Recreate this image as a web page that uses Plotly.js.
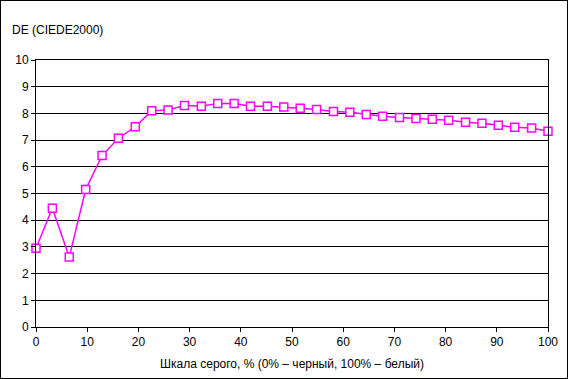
<!DOCTYPE html>
<html>
<head>
<meta charset="utf-8">
<script src="https://cdn.plot.ly/plotly-3.0.1.min.js"></script>
<style>
  html, body { margin: 0; padding: 0; background: #fff; }
  #wrap { position: relative; width: 568px; height: 379px; }
  #chart { position: absolute; left: 0; top: 0; width: 568px; height: 379px; }
  #frame { position: absolute; left: 0; top: 0; width: 568px; height: 379px; box-sizing: border-box; border: 1px solid #000; pointer-events: none; }
</style>
</head>
<body>
<div id="wrap"><div id="chart"></div><div id="frame"></div></div>
<script>
// Gray scale level, % (0% = black, 100% = white)
var grayLevels = [0, 3.2, 6.5, 9.7, 12.9, 16.1, 19.4, 22.6, 25.8, 29.0, 32.3, 35.5, 38.7, 41.9, 45.2, 48.4,
                  51.6, 54.8, 58.1, 61.3, 64.5, 67.7, 71.0, 74.2, 77.4, 80.6, 83.9, 87.1, 90.3, 93.5, 96.8, 100];
// DE (CIEDE2000)
var deValues = [2.95, 4.45, 2.62, 5.15, 6.42, 7.07, 7.50, 8.10, 8.13, 8.30, 8.27, 8.37, 8.37, 8.27, 8.27, 8.24,
                8.19, 8.15, 8.07, 8.04, 7.96, 7.89, 7.85, 7.81, 7.78, 7.74, 7.67, 7.63, 7.56, 7.48, 7.45, 7.33];
var xTicks = [0, 10, 20, 30, 40, 50, 60, 70, 80, 90, 100];
var yTicks = [0, 1, 2, 3, 4, 5, 6, 7, 8, 9, 10];
var yTitle = "DE (CIEDE2000)";
var xTitle = "Шкала серого, % (0% – черный, 100% – белый)";

var font = { family: "Liberation Sans, Arial, sans-serif", size: 12, color: "#000" };

var trace = {
  x: grayLevels,
  y: deValues,
  type: "scatter",
  mode: "lines+markers",
  line: { color: "#ff00ff", width: 1.5 },
  marker: { symbol: "square", size: 8, color: "#ffffff", line: { color: "#ff00ff", width: 1.5 } },
  cliponaxis: false,
  hoverinfo: "none"
};

var layout = {
  width: 568, height: 379,
  margin: { l: 36, r: 20, t: 60, b: 52, pad: 0 },
  paper_bgcolor: "#fff", plot_bgcolor: "#fff",
  font: font,
  showlegend: false,
  xaxis: {
    range: [0, 100], tickvals: xTicks, ticktext: xTicks.map(String),
    showgrid: false, zeroline: false,
    showline: true, linecolor: "#000", linewidth: 1, mirror: true,
    ticks: "outside", ticklen: 4, tickcolor: "#000", tickwidth: 1,
    tickfont: font,
    title: { text: xTitle, font: font, standoff: 11 }
  },
  yaxis: {
    range: [0, 10], tickvals: yTicks, ticktext: yTicks.map(String),
    showgrid: true, gridcolor: "#000", gridwidth: 1, zeroline: false,
    showline: true, linecolor: "#000", linewidth: 1, mirror: true,
    ticks: "outside", ticklen: 4, tickcolor: "#000", tickwidth: 1,
    tickfont: font
  },
  annotations: [{
    text: yTitle, xref: "paper", yref: "paper",
    x: -0.05, y: 1.112, xanchor: "left", yanchor: "middle",
    showarrow: false, font: font
  }]
};

Plotly.newPlot("chart", [trace], layout, { displayModeBar: false, staticPlot: true });
</script>
</body>
</html>
